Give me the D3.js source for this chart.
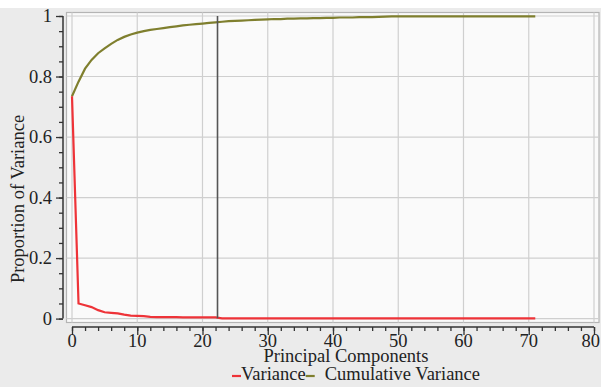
<!DOCTYPE html>
<html>
<head>
<meta charset="utf-8">
<script src="https://cdn.jsdelivr.net/npm/d3@7"></script>
<style>
	body { margin: 0; background: #fff; }
	svg { display: block; }
	svg text { font-family: "Liberation Serif", "DejaVu Serif", serif; fill: #222; font-size: 18.5px; }
</style>
</head>
<body>
<svg id="chart" width="601" height="387"></svg>
<script>
// proportion of variance per principal component (index 0..71)
var variance = [
	0.735, 0.050, 0.044, 0.038, 0.028, 0.021, 0.019, 0.017, 0.013, 0.010,
	0.009, 0.008, 0.006, 0.005, 0.005, 0.005, 0.005, 0.004, 0.004, 0.004,
	0.004, 0.004, 0.004, 0.001, 0.001, 0.001, 0.001, 0.001, 0.001, 0.001,
	0.001, 0.001, 0.001, 0.001, 0.001, 0.001, 0.001, 0.001, 0.001, 0.001,
	0.001, 0.001, 0.001, 0.001, 0.001, 0.001, 0.001, 0.001, 0.001, 0.001,
	0.001, 0.001, 0.001, 0.001, 0.001, 0.001, 0.001, 0.001, 0.001, 0.001,
	0.001, 0.001, 0.001, 0.001, 0.001, 0.001, 0.001, 0.001, 0.001, 0.001,
	0.001, 0.001
];
var cumulative = [
	0.735, 0.783, 0.826, 0.855, 0.877, 0.893, 0.908, 0.921, 0.931, 0.939,
	0.945, 0.950, 0.954, 0.957, 0.960, 0.963, 0.966, 0.969, 0.971, 0.973,
	0.975, 0.977, 0.979, 0.981, 0.983, 0.984, 0.985, 0.986, 0.987, 0.988,
	0.989, 0.990, 0.990, 0.991, 0.991, 0.992, 0.992, 0.993, 0.993, 0.994,
	0.994, 0.995, 0.995, 0.995, 0.996, 0.996, 0.996, 0.997, 0.998, 0.999,
	0.999, 0.999, 0.999, 0.999, 0.999, 0.999, 0.999, 0.999, 0.999, 0.999,
	0.999, 0.999, 0.999, 0.999, 0.999, 0.999, 0.999, 0.999, 0.999, 0.999,
	0.999, 0.999
];
var cutoff = 22.3;
var xTicks = [0, 10, 20, 30, 40, 50, 60, 70, 80];
var yTicks = [0, 0.2, 0.4, 0.6, 0.8, 1];
var yTickLabels = ['0', '0.2', '0.4', '0.6', '0.8', '1'];
var legendItems = [
	{ name: 'Variance', color: '#ee3338' },
	{ name: 'Cumulative Variance', color: '#7f7f2e' }
];

var W = 601;
var svg = d3.select('#chart');
var x = d3.scaleLinear().domain([0, 80]).range([72, 594]);
var y = d3.scaleLinear().domain([0, 1]).range([318.6, 16]);

// grey page background below a thin white strip
svg.append('rect').attr('x', 0).attr('y', 8).attr('width', W).attr('height', 379).attr('fill', '#ebebeb');

// plot frame
svg.append('rect')
	.attr('x', 66.5).attr('y', 12.5).attr('width', 532.5).attr('height', 310)
	.attr('fill', '#fafafa').attr('stroke', '#b4b4b4').attr('stroke-width', 1.2);

// grid
var grid = svg.append('g').attr('stroke', '#cfcfcf').attr('stroke-width', 1.2);
grid.selectAll('.vx').data(xTicks).enter().append('line')
	.attr('x1', function(d) { return x(d); }).attr('x2', function(d) { return x(d); })
	.attr('y1', 12.5).attr('y2', 322.5);
grid.selectAll('.hy').data(yTicks).enter().append('line')
	.attr('x1', 66.5).attr('x2', 599)
	.attr('y1', function(d) { return y(d); }).attr('y2', function(d) { return y(d); });

function styleTicks(g) {
	g.selectAll('line').attr('stroke', '#333').attr('stroke-width', 1.3);
	g.selectAll('.tick text').remove();
}

// x axis ticks (labels drawn separately)
var gx = svg.append('g').attr('transform', 'translate(0,327)');
gx.append('g').call(d3.axisBottom(x).tickValues(d3.range(0, 81, 2)).tickSize(4).tickFormat(''))
	.call(function(g) { g.select('.domain').remove(); });
gx.append('g').call(d3.axisBottom(x).tickValues(xTicks).tickSize(8).tickFormat(''))
	.call(function(g) { g.select('.domain').attr('d', 'M' + x(0) + ',0H' + x(80)).attr('stroke', '#333').attr('stroke-width', 1.5); });
styleTicks(gx);
gx.selectAll('.xlabel').data(xTicks).enter().append('text')
	.attr('class', 'xlabel')
	.attr('x', function(d) { return x(d); })
	.attr('y', 20)
	.attr('text-anchor', 'middle')
	.text(function(d) { return d; })
	.each(function() {
		// keep the last label inside the page, as the original does
		var bb = this.getBBox();
		if (bb.x + bb.width > W - 1) d3.select(this).attr('x', +d3.select(this).attr('x') - (bb.x + bb.width - W + 1));
	});

// y axis ticks
var gy = svg.append('g').attr('transform', 'translate(63,0)');
gy.append('g').call(d3.axisLeft(y).tickValues(d3.range(0, 1.001, 0.05)).tickSize(4).tickFormat(''))
	.call(function(g) { g.select('.domain').remove(); });
gy.append('g').call(d3.axisLeft(y).tickValues(yTicks).tickSize(7).tickFormat(''))
	.call(function(g) { g.select('.domain').attr('d', 'M0,' + y(0) + 'V' + y(1)).attr('stroke', '#333').attr('stroke-width', 1.5); });
styleTicks(gy);
gy.selectAll('.ylabel').data(yTicks).enter().append('text')
	.attr('class', 'ylabel')
	.attr('x', -11)
	.attr('y', function(d) { return y(d) + 6; })
	.attr('text-anchor', 'end')
	.text(function(d, i) { return yTickLabels[i]; });

// series
var line = d3.line()
	.x(function(d, i) { return x(i); })
	.y(function(d) { return y(d); });

svg.append('path').datum(cumulative)
	.attr('d', line).attr('fill', 'none')
	.attr('stroke', legendItems[1].color).attr('stroke-width', 2.2);

svg.append('path').datum(variance)
	.attr('d', line).attr('fill', 'none')
	.attr('stroke', legendItems[0].color).attr('stroke-width', 2.2);

// cutoff marker
svg.append('line')
	.attr('x1', x(cutoff)).attr('x2', x(cutoff))
	.attr('y1', y(1)).attr('y2', y(0.001))
	.attr('stroke', '#555').attr('stroke-width', 1.6);

// axis titles
svg.append('text')
	.attr('x', 346).attr('y', 362)
	.attr('text-anchor', 'middle')
	.text('Principal Components');

svg.append('text')
	.attr('transform', 'translate(24,199) rotate(-90)')
	.attr('text-anchor', 'middle')
	.text('Proportion of Variance');

// legend
var legend = svg.append('g').attr('transform', 'translate(232,380)');
var lx = 0;
legendItems.forEach(function(item, i) {
	legend.append('line')
		.attr('x1', lx).attr('x2', lx + 9)
		.attr('y1', -4).attr('y2', -4)
		.attr('stroke', item.color).attr('stroke-width', 2.2);
	var t = legend.append('text')
		.attr('x', lx + (i === 0 ? 9 : 19)).attr('y', 0)
		.text(item.name);
	lx = lx + (i === 0 ? 9 : 19) + t.node().getComputedTextLength();
});
</script>
</body>
</html>
